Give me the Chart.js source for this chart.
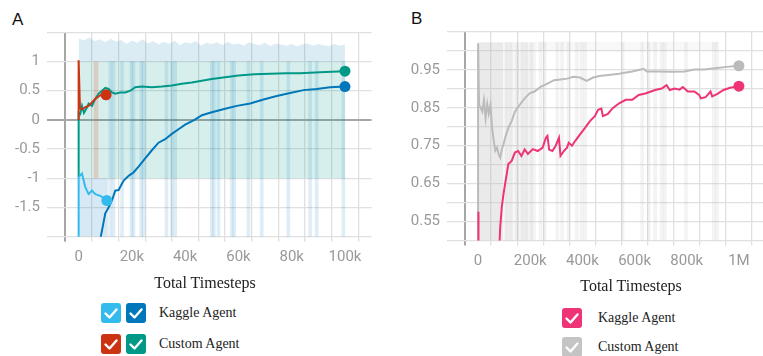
<!DOCTYPE html>
<html><head><meta charset="utf-8">
<script src="https://cdn.jsdelivr.net/npm/chart.js@4.4.1/dist/chart.umd.min.js"></script>
<style>
html,body{margin:0;padding:0;background:#fff;width:763px;height:356px;overflow:hidden;position:relative;}
canvas{position:absolute;}
.lab{position:absolute;font-family:"Liberation Sans",Arial,sans-serif;font-size:17px;color:#111;line-height:1;}
.title{position:absolute;font-family:"Liberation Serif","Times New Roman",serif;font-size:16px;color:#222;white-space:nowrap;transform:translate(-50%,-50%);}
.leg{position:absolute;font-family:"Liberation Serif","Times New Roman",serif;font-size:14px;color:#222;white-space:nowrap;transform:translateY(-50%);}
.box{position:absolute;width:20px;height:20px;border-radius:3px;}
.box svg{position:absolute;left:0;top:0;}
</style></head>
<body>
<div class="lab" style="left:12px;top:11px;">A</div>
<div class="lab" style="left:411px;top:10px;">B</div>
<canvas id="cA" width="380" height="275" style="left:0;top:0;"></canvas>
<canvas id="cB" width="392" height="280" style="left:380px;top:0;"></canvas>
<div id="legend"></div>
<script>
// ---------- Tick labels ----------
const aXTickValues = [0, 20, 40, 60, 80, 100];           // thousands of timesteps
const aXTickLabels = ['0', '20k', '40k', '60k', '80k', '100k'];
const aYTickValues = [-1.5, -1, -0.5, 0, 0.5, 1];
const aYTickLabels = ['-1.5', '-1', '-0.5', '0', '0.5', '1'];
const bXTickValues = [0, 200, 400, 600, 800, 1000];
const bXTickLabels = ['0', '200k', '400k', '600k', '800k', '1M'];
const bYTickValues = [0.55, 0.65, 0.75, 0.85, 0.95];
const bYTickLabels = ['0.55', '0.65', '0.75', '0.85', '0.95'];

// ---------- Panel A: smoothed series (x in thousands of timesteps) ----------
const kaggle1X = [0, 0, 1.25, 2.5, 3.75, 5, 6.25, 8.1, 10, 10.6];
const kaggle1Y = [-2.5, -0.98, -0.92, -1.15, -1.27, -1.21, -1.27, -1.30, -1.35, -1.38];
const kaggle2X = [8.1, 9, 10, 11.25, 12.5, 13.75, 15, 16.9, 19, 20.6, 22.5, 25, 27.5, 30, 32.5, 35, 37.5, 40, 43.5, 46.3, 50, 53.2, 55, 59.4, 64.4, 69.4, 74.4, 79.4, 84.4, 89.4, 94.4, 100];
const kaggle2Y = [-2.05, -1.84, -1.6, -1.5, -1.38, -1.21, -1.2, -1.04, -0.95, -0.9, -0.8, -0.66, -0.52, -0.39, -0.33, -0.24, -0.16, -0.08, 0.0, 0.08, 0.13, 0.17, 0.19, 0.24, 0.28, 0.35, 0.41, 0.46, 0.51, 0.53, 0.56, 0.57];
const customAX = [0, 0, 0.5, 1.5, 2.5, 3.75, 5, 6.25, 7.5, 8.75, 10.3];
const customAY = [0, 1.02, 0.2, 0.18, 0.22, 0.24, 0.30, 0.36, 0.40, 0.44, 0.43];
const customBX = [0, 0, 0.6, 1.25, 2, 2.5, 3.2, 3.75, 5, 6.25, 7.5, 8.75, 10, 11.25, 12.5, 13.75, 15.6, 17.5, 19.4, 21.25, 23.75, 27.5, 31.25, 35, 38.75, 42.5, 46.25, 50, 55, 60, 66, 72, 78, 83, 90.6, 95, 100];
const customBY = [-0.98, 0.12, 0.1, 0.24, 0.12, 0.16, 0.22, 0.28, 0.24, 0.36, 0.45, 0.50, 0.55, 0.53, 0.47, 0.45, 0.47, 0.47, 0.50, 0.56, 0.57, 0.56, 0.57, 0.59, 0.62, 0.64, 0.67, 0.70, 0.73, 0.76, 0.78, 0.79, 0.80, 0.80, 0.815, 0.825, 0.835];

// ---------- Panel A: raw-value envelopes ----------
const aRawTopX = [0, 2, 4, 6, 8, 10, 12, 14, 16, 18, 20, 22, 24, 26, 28, 30, 32, 34, 36, 38, 40, 42, 44, 46, 48, 50, 52, 54, 56, 58, 60, 62, 64, 66, 68, 70, 72, 74, 76, 78, 80, 82, 84, 86, 88, 90, 92, 94, 96, 98, 100];
const aRawTopY = [1.40, 1.36, 1.41, 1.35, 1.38, 1.33, 1.39, 1.34, 1.37, 1.30, 1.36, 1.32, 1.38, 1.31, 1.35, 1.29, 1.34, 1.30, 1.36, 1.28, 1.33, 1.31, 1.35, 1.27, 1.32, 1.30, 1.33, 1.28, 1.34, 1.29, 1.31, 1.27, 1.33, 1.30, 1.28, 1.32, 1.26, 1.31, 1.29, 1.27, 1.30, 1.26, 1.29, 1.31, 1.27, 1.30, 1.28, 1.26, 1.30, 1.27, 1.29];
const aCustomBandX = [0, 100];
const aCustomBandTop = [1, 1];
const aRedBandX = [5.6, 7.5];
const aRedBandTop = [1, 1];
const aEarlyLowX = [0, 11];
const aEarlyLowTop = [-1, -1];
const aSpikeX = [11.9, 13.1, 16.3, 19.8, 20.6, 23.5, 24.4, 33, 35, 36.25, 50, 50.8, 52.5, 57.5, 58.4, 63.75, 68.75, 78.75, 86.9, 89.4, 99.4];

// ---------- Panel B: smoothed series ----------
const grayX = [0, 0, 3.75, 10, 16, 22.5, 28.75, 35, 41, 47.5, 53.75, 60, 66, 72.5, 78.75, 85, 91, 97.5, 103.75, 116, 128.75, 141, 160, 178.75, 197.5, 216, 241, 266, 291, 316, 341, 366, 391, 416, 441, 466, 491, 541, 591, 635, 647, 691, 741, 791, 829, 866, 916, 954, 1000];
const grayY = [0.5, 1.02, 0.858, 0.85, 0.84, 0.87, 0.823, 0.86, 0.835, 0.858, 0.797, 0.763, 0.737, 0.745, 0.728, 0.719, 0.74, 0.754, 0.771, 0.797, 0.815, 0.84, 0.858, 0.875, 0.888, 0.893, 0.906, 0.914, 0.923, 0.925, 0.927, 0.932, 0.93, 0.921, 0.93, 0.934, 0.936, 0.94, 0.946, 0.953, 0.946, 0.946, 0.945, 0.946, 0.951, 0.951, 0.955, 0.958, 0.961];
const pinkX = [0, 0, 3, 78, 82.5, 85, 91, 97.5, 103.75, 110, 116, 128.75, 141, 153.75, 166, 178.75, 191, 210, 228.75, 247.5, 260, 266, 272.5, 285, 297.5, 310, 316, 328.75, 341, 347.5, 360, 372.5, 391, 410, 428.75, 447.5, 460, 472.5, 478.75, 497.5, 516, 541, 566, 591, 616, 641, 679, 704, 722.5, 735, 754, 772.5, 785, 804, 829, 847.5, 854, 872.5, 891, 897.5, 916, 941, 966, 1000];
const pinkY = [0.4, 0.576, 0.3, 0.35, 0.5, 0.537, 0.589, 0.623, 0.65, 0.676, 0.702, 0.71, 0.732, 0.736, 0.723, 0.74, 0.728, 0.741, 0.736, 0.745, 0.771, 0.776, 0.74, 0.736, 0.75, 0.771, 0.723, 0.736, 0.745, 0.758, 0.75, 0.763, 0.78, 0.797, 0.815, 0.828, 0.845, 0.848, 0.828, 0.834, 0.849, 0.862, 0.871, 0.871, 0.884, 0.888, 0.897, 0.901, 0.91, 0.897, 0.901, 0.898, 0.905, 0.893, 0.893, 0.884, 0.875, 0.878, 0.893, 0.88, 0.886, 0.897, 0.903, 0.907];

// ---------- Panel B: raw-value envelopes ----------
const bDenseX = [0, 97];
const bDenseTop = [1.023, 1.023];
const bMidX = [97, 222];
const bMidTop = [1.023, 1.023];
const bTopStripX = [222, 920];
const bTopStripTop = [1.024, 1.024];
const bStripeX = [110, 125, 150, 170, 185, 205, 240, 255, 304, 322, 347, 379, 397, 410, 554, 629, 654, 679, 704, 716, 797, 904, 916];

// ---------- Legend ----------
const legendA = [{colors: ['#33bbee', '#0077bb'], label: 'Kaggle Agent'}, {colors: ['#cc3311', '#009988'], label: 'Custom Agent'}];
const legendB = [{colors: ['#ee3377'], label: 'Kaggle Agent'}, {colors: ['#c4c4c4'], label: 'Custom Agent'}];

const zip = (xs, ys) => xs.map((x, i) => ({x, y: ys[i]}));
const isZero = c => c.tick && Math.abs(c.tick.value) < 1e-9;

function lineDs(xs, ys, color) {
  const n = xs.length;
  return {type: 'line', data: zip(xs, ys), borderColor: color, backgroundColor: color, borderWidth: 2,
    tension: 0, fill: false, order: 1,
    pointRadius: c => c.dataIndex === n - 1 ? 5.5 : 0, pointBorderWidth: 0, pointHoverRadius: 0};
}
function bandDs(xs, tops, base, color, order) {
  return {type: 'line', data: zip(xs, tops), borderWidth: 0, borderColor: 'rgba(0,0,0,0)',
    backgroundColor: color, fill: {value: base}, pointRadius: 0, tension: 0, order: order || 10};
}
function spikeDs(xs, lo, hi, color) {
  return {type: 'bar', data: xs.map(x => ({x, y: [lo, hi]})), backgroundColor: color,
    borderWidth: 0, barThickness: 3, order: 9};
}
function labelFor(values, labels, v) {
  for (let i = 0; i < values.length; i++) if (Math.abs(values[i] - v) < 1e-6) return labels[i];
  return '';
}
const tickFont = {family: 'Roboto', size: 15};
const gridOpts = {
  color: c => isZero(c) ? '#a6a6a6' : '#e0e0e0',
  lineWidth: c => isZero(c) ? 2 : 1.3,
  tickLength: 5, drawTicks: true
};

function makeChart(id, datasets, xr, yr, yWidth, xHeight, padding) {
  return new Chart(document.getElementById(id), {
    type: 'line',
    data: {datasets},
    options: {
      responsive: false, animation: false, devicePixelRatio: 1,
      layout: {padding},
      plugins: {legend: {display: false}, tooltip: {enabled: false}},
      events: [],
      scales: {
        x: {type: 'linear', min: xr.min, max: xr.max, offset: false,
          border: {display: false}, grid: gridOpts,
          ticks: {stepSize: xr.step, autoSkip: false, maxRotation: 0, color: '#999', font: tickFont, padding: 7,
            callback: v => labelFor(xr.values, xr.labels, v)},
          afterFit: s => { s.height = xHeight; }},
        y: {type: 'linear', min: yr.min, max: yr.max,
          border: {display: false}, grid: gridOpts,
          ticks: {stepSize: yr.step, autoSkip: false, color: '#999', font: tickFont, padding: 7,
            callback: v => labelFor(yr.values, yr.labels, v)},
          afterFit: s => { s.width = yWidth; }}
      }
    }
  });
}

makeChart('cA', [
  lineDs(customAX, customAY, '#cc3311'),
  lineDs(kaggle1X, kaggle1Y, '#33bbee'),
  lineDs(customBX, customBY, '#009988'),
  lineDs(kaggle2X, kaggle2Y, '#0077bb'),
  spikeDs(aSpikeX, -2, 1.0, 'rgba(0,119,187,0.13)'),
  bandDs(aRawTopX, aRawTopY, 1, 'rgba(0,119,187,0.14)'),
  bandDs(aCustomBandX, aCustomBandTop, -1, 'rgba(0,153,136,0.16)'),
  bandDs(aRedBandX, aRedBandTop, -1, 'rgba(230,80,50,0.22)', 8),
  bandDs(aEarlyLowX, aEarlyLowTop, -2, 'rgba(0,119,187,0.16)')
], {min: -10, max: 110, step: 10, values: aXTickValues, labels: aXTickLabels},
   {min: -2, max: 1.5, step: 0.5, values: aYTickValues, labels: aYTickLabels},
   52, 275 - 236.7, {left: 0, right: 8.4, top: 32.3, bottom: 0});

makeChart('cB', [
  lineDs(pinkX, pinkY, '#ee3377'),
  lineDs(grayX, grayY, '#bbbbbb'),
  spikeDs(bStripeX, 0.5, 1.023, 'rgba(187,187,187,0.18)'),
  bandDs(bDenseX, bDenseTop, 0.5, 'rgba(187,187,187,0.3)'),
  bandDs(bMidX, bMidTop, 0.5, 'rgba(187,187,187,0.15)'),
  bandDs(bTopStripX, bTopStripTop, 1.0, 'rgba(187,187,187,0.1)')
], {min: -100, max: 1100, step: 100, values: bXTickValues, labels: bXTickLabels},
   {min: 0.5, max: 1.05, step: 0.05, values: bYTickValues, labels: bYTickLabels},
   72, 280 - 240.5, {left: 0, right: 0, top: 32, bottom: 0});

// ---------- HTML titles and legends ----------
const root = document.getElementById('legend');
function addTitle(cx, cy) {
  const t = document.createElement('div'); t.className = 'title';
  t.style.left = cx + 'px'; t.style.top = cy + 'px'; t.textContent = 'Total Timesteps';
  root.appendChild(t);
}
const check = '<svg width="20" height="20"><polyline points="4.5,10.5 8.5,14.5 15.5,6.5" fill="none" stroke="#fff" stroke-width="2.4" stroke-linecap="round" stroke-linejoin="round"/></svg>';
function addLegend(items, boxX, textX, rowsY) {
  items.forEach((it, r) => {
    it.colors.forEach((c, k) => {
      const b = document.createElement('div'); b.className = 'box';
      b.style.background = c; b.style.left = (boxX + k * 25) + 'px'; b.style.top = (rowsY[r] - 10) + 'px';
      b.innerHTML = check; root.appendChild(b);
    });
    const t = document.createElement('div'); t.className = 'leg';
    t.style.left = textX + 'px'; t.style.top = rowsY[r] + 'px'; t.textContent = it.label;
    root.appendChild(t);
  });
}
addTitle(205, 283);
addTitle(631, 286);
addLegend(legendA, 101, 159, [313, 344]);
addLegend(legendB, 562, 598, [318, 347]);
</script>
</body></html>
